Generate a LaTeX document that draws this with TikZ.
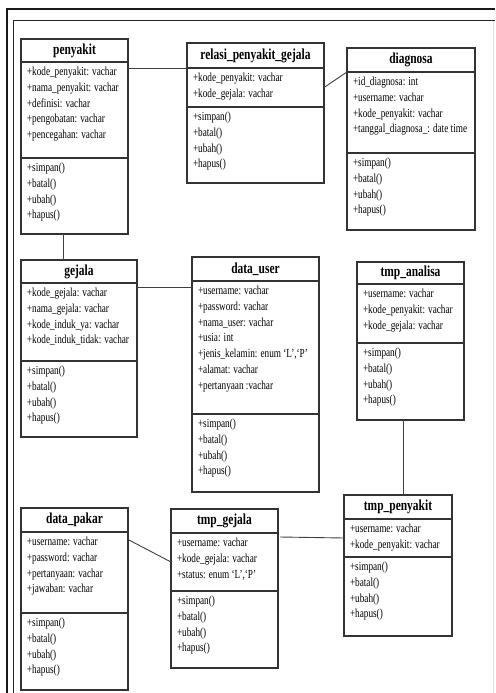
\documentclass[tikz,border=0pt]{standalone}
\usepackage{fontspec}
\usetikzlibrary{calc}
\newfontfamily\umlfont[FakeStretch=0.75]{Liberation Serif}

\tikzset{
  classpart/.style={draw=black!80, line width=1.1pt, inner sep=0pt, outer sep=0pt,
                    anchor=north west, fill=white},
  classtitle/.style={font=\umlfont\bfseries\fontsize{15.3}{17}\selectfont},
  members/.style={font=\umlfont\fontsize{12.3}{15.8}\selectfont, align=left,
                  inner sep=0pt, outer sep=0pt, anchor=north west},
  conn/.style={draw=black!75, line width=0.9pt},
  frameouter/.style={draw=black!90, line width=2pt},
  frameinner/.style={draw=black!85, line width=1pt},
}

% #1 name, #2 left, #3 top, #4 width, #5 title height, #6 attribute height,
% #7 operation height, #8 class name, #9 attribute lines
\newcommand{\umlclass}[9]{%
  \node[classpart, classtitle, minimum width=#4pt, minimum height=#5pt] (#1-t) at (#2,#3) {#8};
  \node[classpart, minimum width=#4pt, minimum height=#6pt] (#1-a) at (#1-t.south west) {};
  \node[classpart, minimum width=#4pt, minimum height=#7pt] (#1-m) at (#1-a.south west) {};
  \node[members] (#1-at) at ($(#1-a.north west)+(6,5)$) {#9};
  \node[members] (#1-mt) at ($(#1-m.north west)+(6,5)$) {+simpan()\\+batal()\\+ubah()\\+hapus()};
}

\begin{document}
\begin{tikzpicture}[x=1pt, y=-1pt]
\useasboundingbox (0,0) rectangle (495,693);
\fill[white] (0,0) rectangle (495,693);

% page frame
\draw[frameouter] (6.5,693) -- (6.5,9.5) -- (495,9.5);
\draw[frameinner] (13.5,693) -- (13.5,20.5) -- (495,20.5);
\draw[black!12, line width=0.8pt] (493,21) -- (493,693);

% classes
\umlclass{penyakit}{21}{39}{107}{23}{96}{76}{penyakit}
  {+kode\_penyakit: vachar\\+nama\_penyakit: vachar\\+definisi: vachar\\+pengobatan: vachar\\+pencegahan: vachar}
\umlclass{relasi}{187}{43}{137}{25}{39}{76}{relasi\_penyakit\_gejala}
  {+kode\_penyakit: vachar\\+kode\_gejala: vachar}
\umlclass{diagnosa}{347}{48}{128}{24}{81}{77}{diagnosa}
  {+id\_diagnosa: int\\+username: vachar\\+kode\_penyakit: vachar\\+tanggal\_diagnosa\_: date time}
\umlclass{gejala}{21}{260}{116}{23}{78}{76}{gejala}
  {+kode\_gejala: vachar\\+nama\_gejala: vachar\\+kode\_induk\_ya: vachar\\+kode\_induk\_tidak: vachar}
\umlclass{datauser}{192}{257}{127}{24}{133}{78}{data\_user}
  {+username: vachar\\+password: vachar\\+nama\_user: vachar\\+usia: int\\+jenis\_kelamin: enum ‘L’,‘P’\\+alamat: vachar\\+pertanyaan :vachar}
\umlclass{tmpanalisa}{357}{262}{107}{22}{59}{77}{tmp\_analisa}
  {+username: vachar\\+kode\_penyakit: vachar\\+kode\_gejala: vachar}
\umlclass{tmppenyakit}{344}{495}{108}{24}{38}{79}{tmp\_penyakit}
  {+username: vachar\\+kode\_penyakit: vachar}
\umlclass{tmpgejala}{171}{509}{107}{24}{58}{77}{tmp\_gejala}
  {+username: vachar\\+kode\_gejala: vachar\\+status: enum ‘L’,‘P’}
\umlclass{datapakar}{21}{508}{107}{24}{81}{77}{data\_pakar}
  {+username: vachar\\+password: vachar\\+pertanyaan: vachar\\+jawaban: vachar}

% associations
\draw[conn] (relasi-t.south west) -- (relasi-t.south west -| penyakit-t.east);
\draw[conn] (relasi-a.east) -- (diagnosa-t.south west);
\coordinate (pg) at ($(penyakit-m.south west)!0.4!(penyakit-m.south east)$);
\draw[conn] (pg) -- (pg |- gejala-t.north);
\coordinate (gd) at ($(gejala-a.north east)+(0,4)$);
\draw[conn] (gd) -- (gd -| datauser-a.west);
\coordinate (ap) at ($(tmpanalisa-m.south west)!0.43!(tmpanalisa-m.south east)$);
\draw[conn] (ap) -- (ap |- tmppenyakit-t.north);
\coordinate (gp) at ($(tmpgejala-a.north east)+(2,4)$);
\draw[conn] (gp) -- (tmppenyakit-a.west);
\coordinate (pk) at ($(datapakar-a.north east)+(1,8)$);
\draw[conn] (pk) -- (tmpgejala-a.west);
\end{tikzpicture}
\end{document}
